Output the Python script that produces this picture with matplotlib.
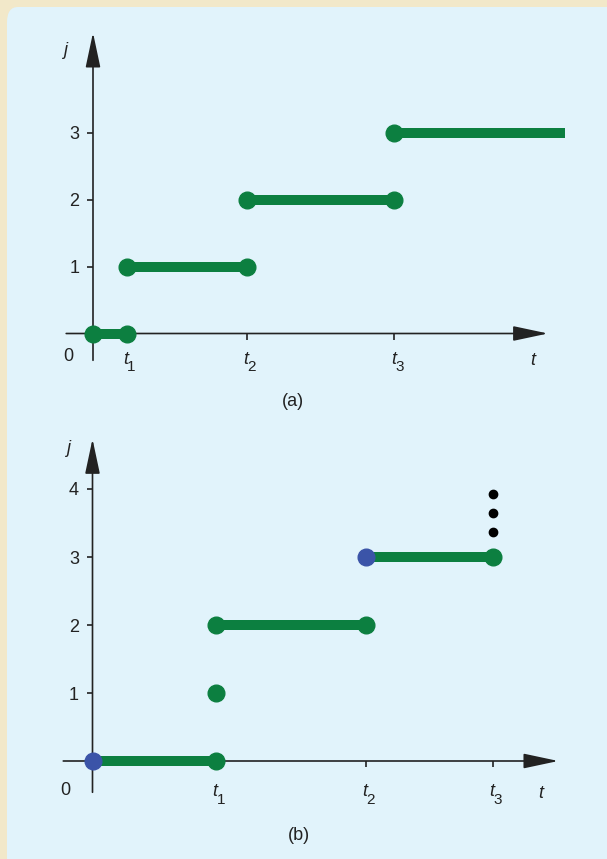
import matplotlib
matplotlib.use('Agg')
import matplotlib.pyplot as plt
from matplotlib.patches import FancyBboxPatch

plt.rcParams['font.family'] = ['Liberation Sans', 'DejaVu Sans']
plt.rcParams['mathtext.fontset'] = 'custom'
plt.rcParams['mathtext.rm'] = 'Liberation Sans'
plt.rcParams['mathtext.it'] = 'Liberation Sans:italic'

VERDE = '#0c7f40'
AZUL = '#3b54a8'
TEXTO = '#222222'
FONDO = '#e1f3fb'
MARCO = '#f2e8c9'

# Datos del panel (a): instantes de salto y niveles de j
t_a = [0.0, 0.5, 2.3, 4.5]
t_fin_a = 7.05
j_a = [0, 1, 2, 3]
ticks_t_a = [0.5, 2.3, 4.5]
ticks_j_a = [1, 2, 3]

# Datos del panel (b)
t_b = [0.0, 1.816, 4.02, 5.89]
ticks_t_b = [1.816, 4.02, 5.89]
ticks_j_b = [1, 2, 3, 4]
# tramos: (t inicio, t final, j, color punto inicial, color punto final)
tramos_b = [(t_b[0], t_b[1], 0, AZUL, VERDE),
            (t_b[1], t_b[2], 2, VERDE, VERDE),
            (t_b[2], t_b[3], 3, AZUL, VERDE)]
aislado_b = (t_b[1], 1)
puntos_susp_b = [3.37, 3.65, 3.93]

subindices_t = ['1', '2', '3']

W, H = 607, 859
fig = plt.figure(figsize=(W / 100, H / 100), dpi=100, facecolor=MARCO)

# Panel de fondo azul con la esquina redondeada
fondo = FancyBboxPatch((7 / W, -0.05), 1.1, 1.05 - 7 / H,
                       boxstyle='round,pad=0,rounding_size=0.018',
                       transform=fig.transFigure, facecolor=FONDO,
                       edgecolor='none', zorder=-10)
fig.patches.append(fondo)


def crear_ejes(top_px, bot_px, origen, k):
    # Ejes que cubren todo el ancho, con escala k px por unidad
    ax = fig.add_axes([0, 1 - bot_px / H, 1, (bot_px - top_px) / H])
    ax.set_zorder(1)
    ax.set_xlim(-origen[0] / k, (W - origen[0]) / k)
    ax.set_ylim((origen[1] - bot_px) / k, (origen[1] - top_px) / k)
    ax.patch.set_visible(False)
    for s in ax.spines.values():
        s.set_visible(False)
    ax.spines['left'].set_position(('data', 0))
    ax.spines['bottom'].set_position(('data', 0))
    return ax


def dibujar_flechas(ax, x0, xtip, y0, ytip):
    # linea del eje en gris oscuro y punta negra
    for xy, xytext in [((xtip, 0), (x0, 0)), ((0, ytip), (0, y0))]:
        ax.annotate('', xy=xy, xytext=xytext, zorder=1,
                    arrowprops=dict(arrowstyle='-|>,head_length=1.08,head_width=0.23',
                                    mutation_scale=20, lw=1.2, color=TEXTO,
                                    facecolor='black', shrinkA=0, shrinkB=0))


def formato_ticks(ax, xt, yt, baja):
    ax.set_xticks(xt, ['' for _ in xt])
    ax.set_yticks(yt, [str(v) for v in yt])
    ax.tick_params(axis='both', direction='out', length=4.3, width=1.2,
                   color=TEXTO, labelcolor=TEXTO, labelsize=13)
    ax.tick_params(axis='y', pad=5.5)
    # etiquetas t_i con subindice grande, como en el original
    for tk, sub in zip(xt, subindices_t):
        ax.annotate('t', xy=(tk, 0), xytext=(-0.7, -18.7 - baja),
                    textcoords='offset points', fontsize=13, style='italic',
                    color=TEXTO, ha='center', va='center')
        ax.annotate(sub, xy=(tk, 0), xytext=(3.4, -24.3 - baja),
                    textcoords='offset points', fontsize=11,
                    color=TEXTO, ha='center', va='center')


# ---------- Panel (a) ----------
ax1 = crear_ejes(0, 430, (93, 333.5), 67)
dibujar_flechas(ax1, -0.4, 6.79, -0.4, 4.49)
formato_ticks(ax1, ticks_t_a, ticks_j_a, 0)

inicios = t_a
finales = t_a[1:] + [t_fin_a]
for i, (t0, t1, j) in enumerate(zip(inicios, finales, j_a)):
    ax1.plot([t0, t1], [j, j], color=VERDE, lw=7.2, solid_capstyle='butt', zorder=3)
    ax1.plot(t0, j, 'o', color=VERDE, ms=12, zorder=4)
    if i < len(j_a) - 1:
        ax1.plot(t1, j, 'o', color=VERDE, ms=12, zorder=4)

ax1.text(-0.373, -0.35, '0', fontsize=13, color=TEXTO, ha='center', va='center')
ax1.text(6.58, -0.41, '$t$', fontsize=13, color=TEXTO, ha='center', va='center')
ax1.text(-0.42, 4.23, '$j$', fontsize=13, color=TEXTO, ha='center', va='center')
ax1.text(2.985, -1.02, '(a)', fontsize=13, color=TEXTO, ha='center', va='center')

# ---------- Panel (b) ----------
ax2 = crear_ejes(430, H, (92.5, 761), 68)
dibujar_flechas(ax2, -0.43, 6.85, -0.46, 4.735)
formato_ticks(ax2, ticks_t_b, ticks_j_b, 3.6)

for t0, t1, j, c0, c1 in tramos_b:
    ax2.plot([t0, t1], [j, j], color=VERDE, lw=7.2, solid_capstyle='butt', zorder=3)
    ax2.plot(t0, j, 'o', color=c0, ms=12, zorder=4)
    ax2.plot(t1, j, 'o', color=c1, ms=12, zorder=4)
ax2.plot(*aislado_b, 'o', color=VERDE, ms=12, zorder=4)
ax2.plot([t_b[3]] * len(puntos_susp_b), puntos_susp_b, 'o', color='black', ms=6, zorder=4)

ax2.text(-0.40, -0.44, '0', fontsize=13, color=TEXTO, ha='center', va='center')
ax2.text(6.61, -0.485, '$t$', fontsize=13, color=TEXTO, ha='center', va='center')
ax2.text(-0.35, 4.59, '$j$', fontsize=13, color=TEXTO, ha='center', va='center')
ax2.text(3.04, -1.09, '(b)', fontsize=13, color=TEXTO, ha='center', va='center')

fig.savefig('out.png', dpi=100, facecolor=MARCO)
